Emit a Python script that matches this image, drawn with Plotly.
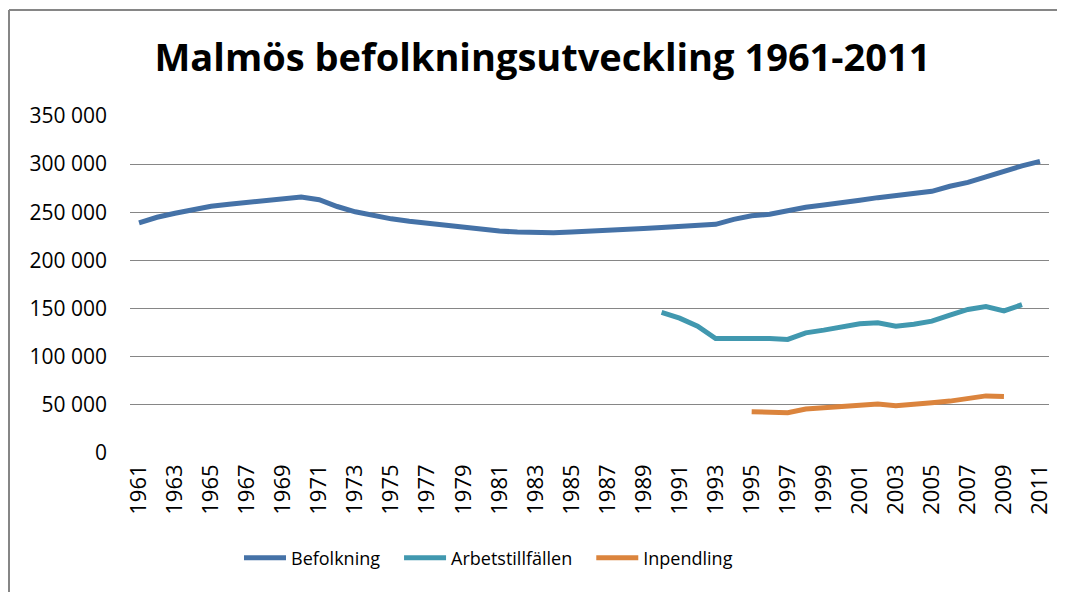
import plotly.graph_objects as go

years = list(range(1961, 2012))

befolkning = [
    239000, 244800, 249000, 252600, 256200, 258300, 260000, 262400, 264500, 265900,
    263000, 256000, 250500, 246400, 243200, 240700, 238600, 236500, 234600, 232900,
    230500, 229500, 228600, 228700, 229400, 230000, 230800, 231800, 233100, 234100,
    235500, 237000, 237500, 242700, 246400, 247900, 251800, 255200, 257500, 259600,
    262400, 265200, 267200, 269200, 271800, 277000, 281100, 286800, 293000, 298200,
    302900,
]

arbetstillfallen_years = list(range(1990, 2011))
arbetstillfallen = [
    146000, 140000, 131700, 118800, 118800, 119300, 119000, 118000, 124800, 127600,
    131200, 134300, 135200, 131700, 133800, 136900, 143200, 149100, 152000, 147600,
    154000,
]

inpendling_years = list(range(1995, 2010))
inpendling = [
    42800, 42500, 41800, 45600, 47200, 48800, 49800, 50800, 49000, 50000,
    52100, 53900, 57000, 59300, 58800,
]

tick_years = list(range(1961, 2012, 2))
tick_labels = [str(y) for y in tick_years]
y_ticks = [0, 50000, 100000, 150000, 200000, 250000, 300000, 350000]
y_tick_labels = ["0", "50 000", "100 000", "150 000", "200 000", "250 000", "300 000", "350 000"]

PAD = "\u00a0\u00a0\u00a0"

fig = go.Figure()
fig.add_trace(go.Scatter(x=years, y=befolkning, mode="lines", name="Befolkning" + PAD,
                         line=dict(color="#4572A7", width=5)))
fig.add_trace(go.Scatter(x=arbetstillfallen_years, y=arbetstillfallen, mode="lines",
                         name="Arbetstillfällen" + PAD, line=dict(color="#4198AF", width=5)))
fig.add_trace(go.Scatter(x=inpendling_years, y=inpendling, mode="lines", name="Inpendling",
                         line=dict(color="#DB843D", width=5)))

OFF = 8  # page body margin
W, H = 1065 - OFF, 592 - OFF
L, T = 130 - OFF, 116 - OFF
R = W - (1049 - OFF)
B = H - (453 - OFF)
pw, ph = W - L - R, H - T - B

def px(x):
    return (x - OFF - L) / pw

def py(y):
    return (H - B - (y - OFF)) / ph

border = dict(color="#868686", width=2)

fig.update_layout(
    width=W, height=H,
    margin=dict(l=L, r=R, t=T, b=B),
    paper_bgcolor="white", plot_bgcolor="white",
    font=dict(family="Open Sans", color="black"),
    title=dict(text="<b>Malmös befolkningsutveckling 1961-2011</b>",
               font=dict(family="Open Sans", size=38, color="black"),
               x=(542.5 - OFF) / W, xref="container", xanchor="center",
               y=1 - (58 - OFF) / H, yref="container", yanchor="middle"),
    showlegend=True,
    legend=dict(orientation="h", x=px(239), xanchor="left", y=py(558), yanchor="middle",
                font=dict(family="Open Sans", size=18, color="black"),
                itemwidth=42, bgcolor="rgba(0,0,0,0)"),
    xaxis=dict(range=[1960.5, 2011.5], tickmode="array", tickvals=tick_years,
               ticktext=tick_labels, tickangle=-90, showgrid=False, zeroline=False,
               showline=False, tickfont=dict(family="Open Sans", size=22, color="black"),
               ticklabelstandoff=6),
    yaxis=dict(range=[0, 350000], tickmode="array", tickvals=y_ticks,
               ticktext=y_tick_labels, showgrid=True, gridcolor="#868686", gridwidth=1,
               zeroline=False, showline=False,
               tickfont=dict(family="Open Sans", size=21, color="black"),
               ticklabelstandoff=22),
    shapes=[
        dict(type="line", xref="paper", yref="paper",
             x0=px(9), x1=px(9), y0=py(600), y1=py(10), line=border, layer="below"),
        dict(type="line", xref="paper", yref="paper",
             x0=px(9), x1=px(1064), y0=py(10), y1=py(10), line=border, layer="below"),
    ],
)

fig.write_html("out.html", config={"displayModeBar": False})
